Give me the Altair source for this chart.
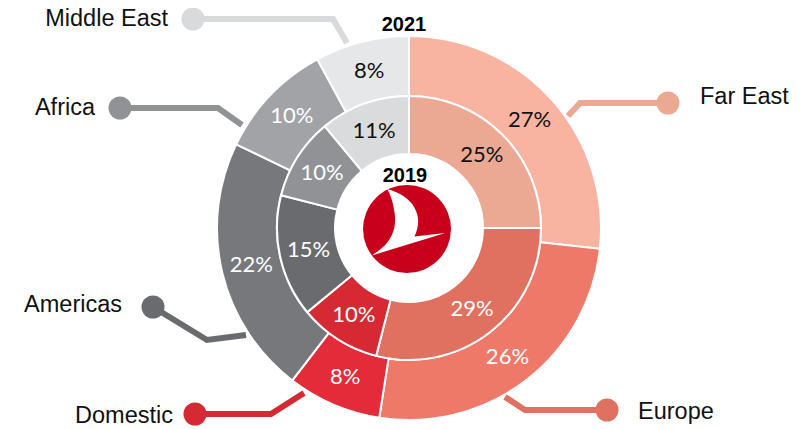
import altair as alt
import pandas as pd

# ---- data ----
categories = ["Far East", "Europe", "Domestic", "Americas", "Africa", "Middle East"]
share_2021 = [27, 26, 8, 22, 10, 8]
share_2019 = [25, 29, 10, 15, 10, 11]

fill_2021 = ["#F8B4A0", "#EE7969", "#E32B3A", "#77787C", "#A2A3A6", "#E6E7E8"]
fill_2019 = ["#EBA893", "#E0705F", "#D52A33", "#6A6B6F", "#919295", "#DADBDC"]
pct_color = ["#111111", "#FFFFFF", "#FFFFFF", "#FFFFFF", "#FFFFFF", "#111111"]
leader_color = ["#EBA893", "#E0705F", "#D52A33", "#6A6B6F", "#919295", "#D9DADB"]

# leader polylines in page pixels: ring edge -> elbow -> dot
leader_x = [[568, 580, 668], [505, 525, 607], [304, 271, 195], [246, 207, 153], [242, 218, 120], [347, 333, 193]]
leader_y = [[116, 103, 103], [397, 410, 410], [393, 414, 414], [335, 340, 307], [125, 108, 108], [43, 19, 19]]
label_x = [700, 638, 173, 122, 95, 168]
label_y = [104, 419, 423, 312, 115, 26]
label_side = ["left", "left", "right", "right", "right", "right"]

year_labels = ["2021", "2019"]
year_x = [404, 405]
year_y = [31, 182]

# ---- layout constants ----
W, H = 787, 421
CX, CY = 409 - 8, 228 - 8
LOGO_X, LOGO_Y = 407 - 8, 229 - 8

xs = alt.Scale(domain=[8, 8 + W], nice=False, zero=False)
ys = alt.Scale(domain=[8, 8 + H], nice=False, zero=False, reverse=True)

df21 = pd.DataFrame({"cat": categories, "share": share_2021, "fill": fill_2021,
                     "tc": pct_color, "idx": range(6)})
df21["lbl"] = df21["share"].astype(str) + "%"
df19 = pd.DataFrame({"cat": categories, "share": share_2019, "fill": fill_2019,
                     "tc": pct_color, "idx": range(6)})
df19["lbl"] = df19["share"].astype(str) + "%"

rows = []
for i, c in enumerate(categories):
    for j in range(3):
        rows.append({"cat": c, "k": j, "x": leader_x[i][j], "y": leader_y[i][j], "col": leader_color[i]})
lead = pd.DataFrame(rows)
dots = lead[lead["k"] == 2]
labels = pd.DataFrame({"cat": categories, "x": label_x, "y": label_y, "side": label_side})
years = pd.DataFrame({"t": year_labels, "x": year_x, "y": year_y})

pos = dict(x=alt.value(CX), y=alt.value(CY))

outer = alt.Chart(df21).mark_arc(radius=192, radius2=132, stroke="white", strokeWidth=2).encode(
    theta=alt.Theta("share:Q", stack=True), order=alt.Order("idx:Q"),
    color=alt.Color("fill:N", scale=None), **pos)
inner = alt.Chart(df19).mark_arc(radius=132, radius2=74, stroke="white", strokeWidth=2).encode(
    theta=alt.Theta("share:Q", stack=True), order=alt.Order("idx:Q"),
    color=alt.Color("fill:N", scale=None), **pos)

outer_txt = alt.Chart(df21).mark_text(radius=162, font="Lato", fontSize=22).encode(
    theta=alt.Theta("share:Q", stack=True), order=alt.Order("idx:Q"),
    text="lbl:N", color=alt.Color("tc:N", scale=None), **pos)
inner_txt = alt.Chart(df19).mark_text(radius=103, font="Lato", fontSize=22).encode(
    theta=alt.Theta("share:Q", stack=True), order=alt.Order("idx:Q"),
    text="lbl:N", color=alt.Color("tc:N", scale=None), **pos)

logo_df = pd.DataFrame({"k": [0]})
logo = alt.Chart(logo_df).mark_point(shape="circle", filled=True, size=88 * 88,
                                     color="#C8001C", opacity=1, strokeWidth=0).encode(
    x=alt.value(LOGO_X), y=alt.value(LOGO_Y))
bird_path = ("M-0.45,-0.91 C0.15,-0.75 0.40,-0.30 0.17,0.17 L0.87,0.09 L-0.80,0.60 "
             "C-0.45,0.40 -0.22,0.10 -0.28,-0.35 C-0.31,-0.60 -0.38,-0.80 -0.45,-0.91 Z")
bird = alt.Chart(logo_df).mark_point(shape=bird_path, filled=True, size=88 * 88,
                                     color="white", opacity=1, strokeWidth=0).encode(
    x=alt.value(LOGO_X), y=alt.value(LOGO_Y))

lines = alt.Chart(lead).mark_line(strokeWidth=6, strokeJoin="miter", strokeCap="butt").encode(
    x=alt.X("x:Q", scale=xs, axis=None), y=alt.Y("y:Q", scale=ys, axis=None),
    detail="cat:N", order=alt.Order("k:Q"), color=alt.Color("col:N", scale=None))
dot = alt.Chart(dots).mark_circle(size=529, opacity=1).encode(
    x=alt.X("x:Q", scale=xs, axis=None), y=alt.Y("y:Q", scale=ys, axis=None),
    color=alt.Color("col:N", scale=None))

lab_l = alt.Chart(labels[labels["side"] == "left"]).mark_text(
    align="left", baseline="alphabetic", font="Liberation Sans", fontSize=23.5, color="#111111").encode(
    x=alt.X("x:Q", scale=xs, axis=None), y=alt.Y("y:Q", scale=ys, axis=None), text="cat:N")
lab_r = alt.Chart(labels[labels["side"] == "right"]).mark_text(
    align="right", baseline="alphabetic", font="Liberation Sans", fontSize=23.5, color="#111111").encode(
    x=alt.X("x:Q", scale=xs, axis=None), y=alt.Y("y:Q", scale=ys, axis=None), text="cat:N")

yr = alt.Chart(years).mark_text(align="center", baseline="alphabetic", font="Liberation Sans",
                                fontSize=20, fontWeight="bold", color="#000000").encode(
    x=alt.X("x:Q", scale=xs, axis=None), y=alt.Y("y:Q", scale=ys, axis=None), text="t:N")

chart = alt.layer(outer, inner, outer_txt, inner_txt, logo, bird, lines, dot, lab_l, lab_r, yr).resolve_scale(
    theta="independent").properties(
    width=W, height=H, padding=0, autosize="none", background="white").configure_view(stroke=None)

chart.save("out.html", embed_options={"renderer": "svg", "actions": False})
